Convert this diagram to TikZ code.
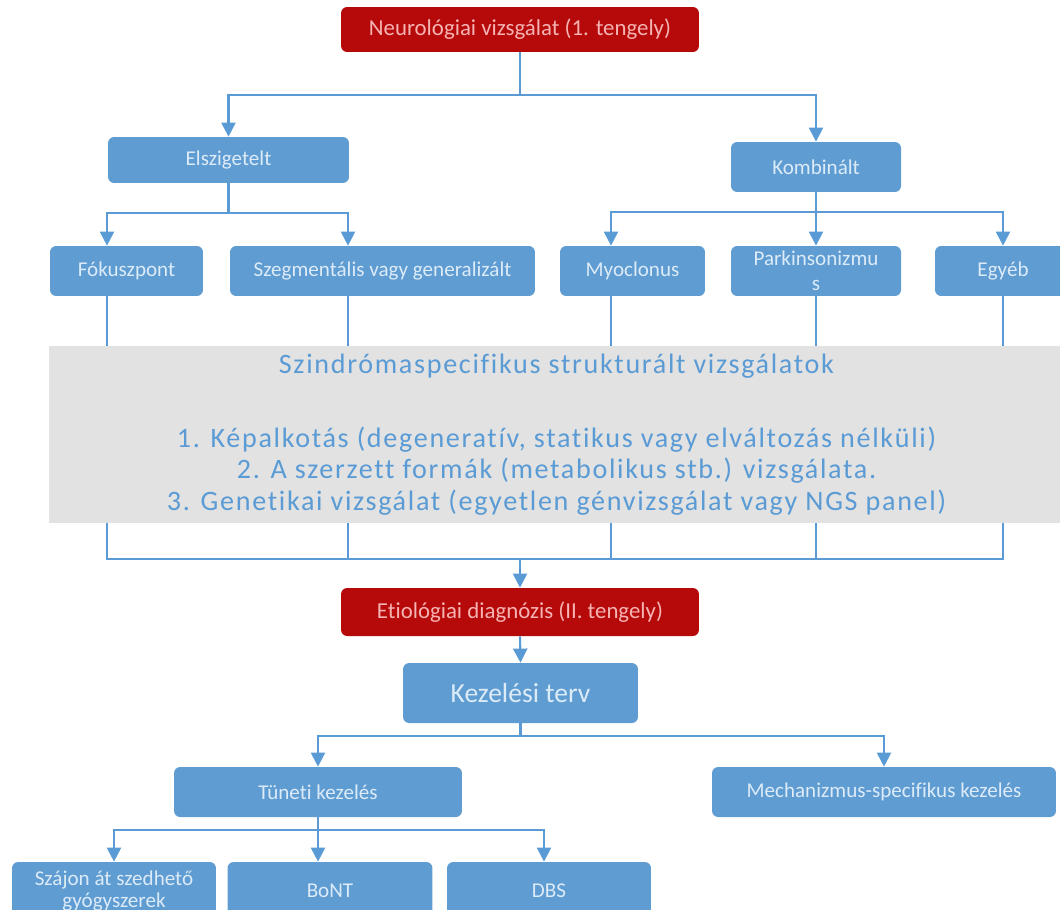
\documentclass[tikz,border=0pt]{standalone}
\usepackage{fontspec}
\setmainfont{Carlito}[Ligatures=NoCommon]
\usetikzlibrary{arrows.meta}
\definecolor{boxblue}{HTML}{5F9CD2}
\definecolor{boxred}{HTML}{B60A0A}
\definecolor{txtblue}{HTML}{DCEBF8}
\definecolor{txtred}{HTML}{F6B3B3}
\definecolor{linblue}{HTML}{5B9BD5}
\definecolor{panelgray}{HTML}{E1E2E1}
\tikzset{
  bbox/.style={fill=boxblue, text=txtblue, rounded corners=3.5pt, align=center,
    font=\fontsize{12}{14.2}\selectfont, inner sep=0pt},
  rbox/.style={bbox, fill=boxred, text=txtred, font=\fontsize{13}{15}\selectfont},
  conn/.style={draw=linblue, line width=1.2pt},
  arr/.style={conn, -{Triangle[length=8pt,width=8pt]}}
}
\begin{document}
\begin{tikzpicture}[x=0.02cm, y=-0.02cm]
        \useasboundingbox (0,0) rectangle (1060,909);
        % first axis and the two branches
        \node[rbox, minimum width=7.16cm, minimum height=0.9cm] (neuro) at (520,29.5) {Neurológiai vizsgálat (1. tengely)};
        \node[bbox, minimum width=4.82cm, minimum height=0.92cm] (elsz) at (228.5,160) {Elszigetelt};
        \node[bbox, minimum width=3.4cm, minimum height=1cm] (komb) at (816,167) {Kombinált};
        \coordinate (j1) at (520,95);
        \draw[conn] (neuro.south) -- (j1);
        \draw[arr] (j1) -| (elsz.north);
        \draw[arr] (j1) -| (komb.north);
        % syndromes
        \node[bbox, minimum width=3.06cm, minimum height=1cm] (foku) at (126.5,271) {Fókuszpont};
        \node[bbox, minimum width=6.1cm, minimum height=1cm] (szeg) at (382.5,271) {Szegmentális vagy generalizált};
        \node[bbox, minimum width=2.9cm, minimum height=1cm] (myoc) at (632.5,271) {Myoclonus};
        \node[bbox, minimum width=3.4cm, minimum height=1cm] (park) at (816,271) {Parkinsonizmu\\s};
        \node[bbox, minimum width=2.72cm, minimum height=1cm] (egyeb) at (1003,271) {Egyéb};
        \coordinate (j2) at (228.5,213);
        \coordinate (j3) at (816,212);
        \draw[conn] (elsz.south) -- (j2);
        \draw[arr] (j2) -| ([xshift=-0.39cm]foku.north);
        \draw[arr] (j2) -| ([xshift=-0.69cm]szeg.north);
        \draw[conn] (komb.south) -- (j3);
        \draw[arr] (j3) -| ([xshift=-0.43cm]myoc.north);
        \draw[arr] (j3) -- (park.north);
        \draw[arr] (j3) -| (egyeb.north);
        % lines into the lower bar, under the grey panel
        \coordinate (bar) at (520,559);
        \draw[conn] ([xshift=-0.39cm]foku.south) |- (bar);
        \draw[conn] ([xshift=-0.69cm]szeg.south) |- (bar);
        \draw[conn] ([xshift=-0.43cm]myoc.south) |- (bar);
        \draw[conn] (park.south) |- (bar);
        \draw[conn] (egyeb.south) |- (bar);
        \node[fill=panelgray, text=linblue, minimum width=20.3cm, minimum height=3.54cm, inner sep=0pt, align=center,
              font=\fontsize{16}{18}\selectfont\addfontfeature{LetterSpace=6}] (panel) at (556.5,434.5)
              {Szindrómaspecifikus strukturált vizsgálatok\\[24pt]
               1. Képalkotás (degeneratív, statikus vagy elváltozás nélküli)\\
               2. A szerzett formák (metabolikus stb.) vizsgálata.\\
               3. Genetikai vizsgálat (egyetlen génvizsgálat vagy NGS panel)};
        % second axis and treatment
        \node[rbox, minimum width=7.16cm, minimum height=0.96cm] (etio) at (520,612) {Etiológiai diagnózis (II. tengely)};
        \draw[arr] (bar) -- (etio.north);
        \node[bbox, minimum width=4.7cm, minimum height=1.2cm, font=\fontsize{15.7}{18}\selectfont] (kez) at (520.5,693) {Kezelési terv};
        \draw[arr] (etio.south) -- (kez.north);
        \node[bbox, minimum width=5.76cm, minimum height=1cm] (tun) at (318,792) {Tüneti kezelés};
        \node[bbox, minimum width=6.88cm, minimum height=1cm] (mech) at (884,792) {Mechanizmus-specifikus kezelés};
        \coordinate (j4) at (520.5,736);
        \draw[conn] (kez.south) -- (j4);
        \draw[arr] (j4) -| (tun.north);
        \draw[arr] (j4) -| (mech.north);
        \node[bbox, minimum width=4.08cm, minimum height=1.16cm, font=\fontsize{12}{12}\selectfont] (szaj) at (114,891) {Szájon át szedhető\\gyógyszerek};
        \node[bbox, minimum width=4.1cm, minimum height=1.16cm] (bont) at (330,891) {BoNT};
        \node[bbox, minimum width=4.08cm, minimum height=1.16cm] (dbs) at (549,891) {DBS};
        \coordinate (j5) at (318,830);
        \draw[conn] (tun.south) -- (j5);
        \draw[arr] (j5) -| (szaj.north);
        \draw[arr] (j5) -| ([xshift=-0.24cm]bont.north);
        \draw[arr] (j5) -| ([xshift=-0.1cm]dbs.north);
\end{tikzpicture}
\end{document}
